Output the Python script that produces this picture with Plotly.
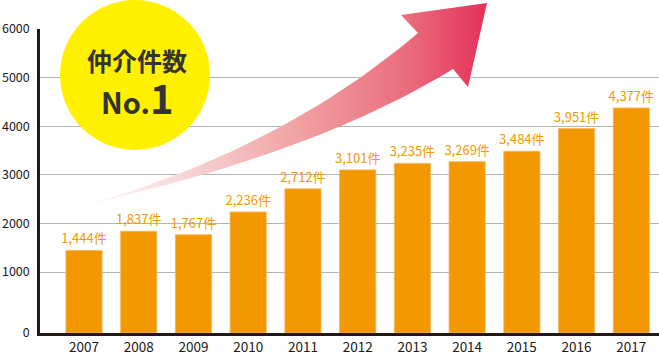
import numpy as np
import plotly.graph_objects as go

# ---- data ----
years = ["2007", "2008", "2009", "2010", "2011", "2012", "2013", "2014", "2015", "2016", "2017"]
cases = [1444, 1837, 1767, 2236, 2712, 3101, 3235, 3269, 3484, 3951, 4377]
y_tick_values = [1000, 2000, 3000, 4000, 5000, 6000]
y_tick_labels = ["1000", "2000", "3000", "4000", "5000", "6000"]

W, H = 659, 354
FONT = "Noto Sans CJK JP"
ORANGE = "#f39800"
DARK = "#231815"

# the reference axis puts "0" a little further below 1000 than a linear step
ZERO_POS = -255

vals = np.array(cases, dtype=float)
labels = [f"{v:,}件" for v in cases]

fig = go.Figure()

fig.add_trace(go.Bar(
    x=years,
    y=vals - ZERO_POS,
    base=ZERO_POS,
    marker=dict(color=ORANGE, line=dict(color="#f7b35a", width=0.8)),
    text=labels,
    texttemplate="%{text}",
    textposition="outside",
    constraintext="none",
    textfont=dict(color=ORANGE, size=13, family=FONT),
    cliponaxis=False,
    width=0.66,
    xaxis="x", yaxis="y",
    hoverinfo="skip",
))

# ---- decorative arrow (pixel-coordinate overlay subplot) ----
def qbez(p0, p1, p2, n=30):
    t = np.linspace(0, 1, n)
    x = (1 - t) ** 2 * p0[0] + 2 * (1 - t) * t * p1[0] + t ** 2 * p2[0]
    y = (1 - t) ** 2 * p0[1] + 2 * (1 - t) * t * p1[1] + t ** 2 * p2[1]
    return x, y

tail = (93, 203)
notch_top = (418, 33)
notch_bot = (453, 69)
ux, uy = qbez(tail, (284, 147), notch_top)
lx, ly = qbez(tail, (318, 152), notch_bot)
head_x = [notch_top[0], 401, 487, 468, notch_bot[0]]
head_y = [notch_top[1], 15, 3, 87, notch_bot[1]]
ax = list(ux) + head_x + list(lx[::-1])
ay = list(uy) + head_y + list(ly[::-1])

fig.add_trace(go.Scatter(
    x=ax, y=ay, mode="lines", fill="toself",
    line=dict(width=0, color="rgba(0,0,0,0)"),
    fillgradient=dict(
        type="horizontal", start=93, stop=487,
        colorscale=[
            [0.0, "rgba(252,240,240,0.6)"],
            [0.22, "#f7d7d7"],
            [0.52, "#f1a2a3"],
            [0.8, "#ea6c7b"],
            [1.0, "#e4305a"],
        ],
    ),
    xaxis="x2", yaxis="y2", hoverinfo="skip", showlegend=False,
))

fig.update_layout(
    width=W, height=H,
    autosize=False,
    margin=dict(l=0, r=0, t=0, b=0, pad=0, autoexpand=False),
    paper_bgcolor="white",
    plot_bgcolor="rgba(0,0,0,0)",
    showlegend=False,
    bargap=0.34,
    font=dict(family=FONT, color=DARK),
    xaxis=dict(
        domain=[40 / W, 1],
        type="category",
        range=[-0.804, 10.506],
        showline=True, linecolor=DARK, linewidth=2.5,
        showgrid=False, ticks="",
        tickfont=dict(size=13.5, color=DARK, family=FONT),
        ticklabelstandoff=0,
        anchor="y",
        automargin=False,
        fixedrange=True,
    ),
    yaxis=dict(
        domain=[21 / H, 325 / H],
        range=[ZERO_POS, 6000],
        tickvals=[ZERO_POS] + y_tick_values,
        ticktext=["0"] + y_tick_labels,
        showline=True, linecolor=DARK, linewidth=2.5,
        showgrid=True, gridcolor="#b4b4b4", gridwidth=1,
        zeroline=False, ticks="",
        tickfont=dict(size=12.5, color=DARK, family=FONT),
        ticklabelstandoff=5,
        anchor="x",
        automargin=False,
        fixedrange=True,
    ),
    xaxis2=dict(domain=[0, 1], range=[0, W], visible=False, anchor="y2",
                automargin=False, fixedrange=True),
    yaxis2=dict(domain=[0, 1], range=[H, 0], visible=False, anchor="x2",
                automargin=False, fixedrange=True),
)

# yellow badge
fig.add_shape(type="circle", xref="x2", yref="y2", x0=60, x1=210, y0=0, y1=150,
              fillcolor="#fff100", line=dict(width=0), layer="above")
fig.add_annotation(xref="x2", yref="y2", x=137, y=60, text="<b>仲介件数</b>",
                   showarrow=False, font=dict(size=25, color="#333333", family=FONT))
fig.add_annotation(xref="x2", yref="y2", x=137, y=97, yanchor="middle",
                   text="<b>No.</b><b><span style='font-size:40px'>1</span></b>",
                   showarrow=False, font=dict(size=29, color="#333333", family=FONT))

fig.write_html("out.html", config={"responsive": False, "displayModeBar": False})
